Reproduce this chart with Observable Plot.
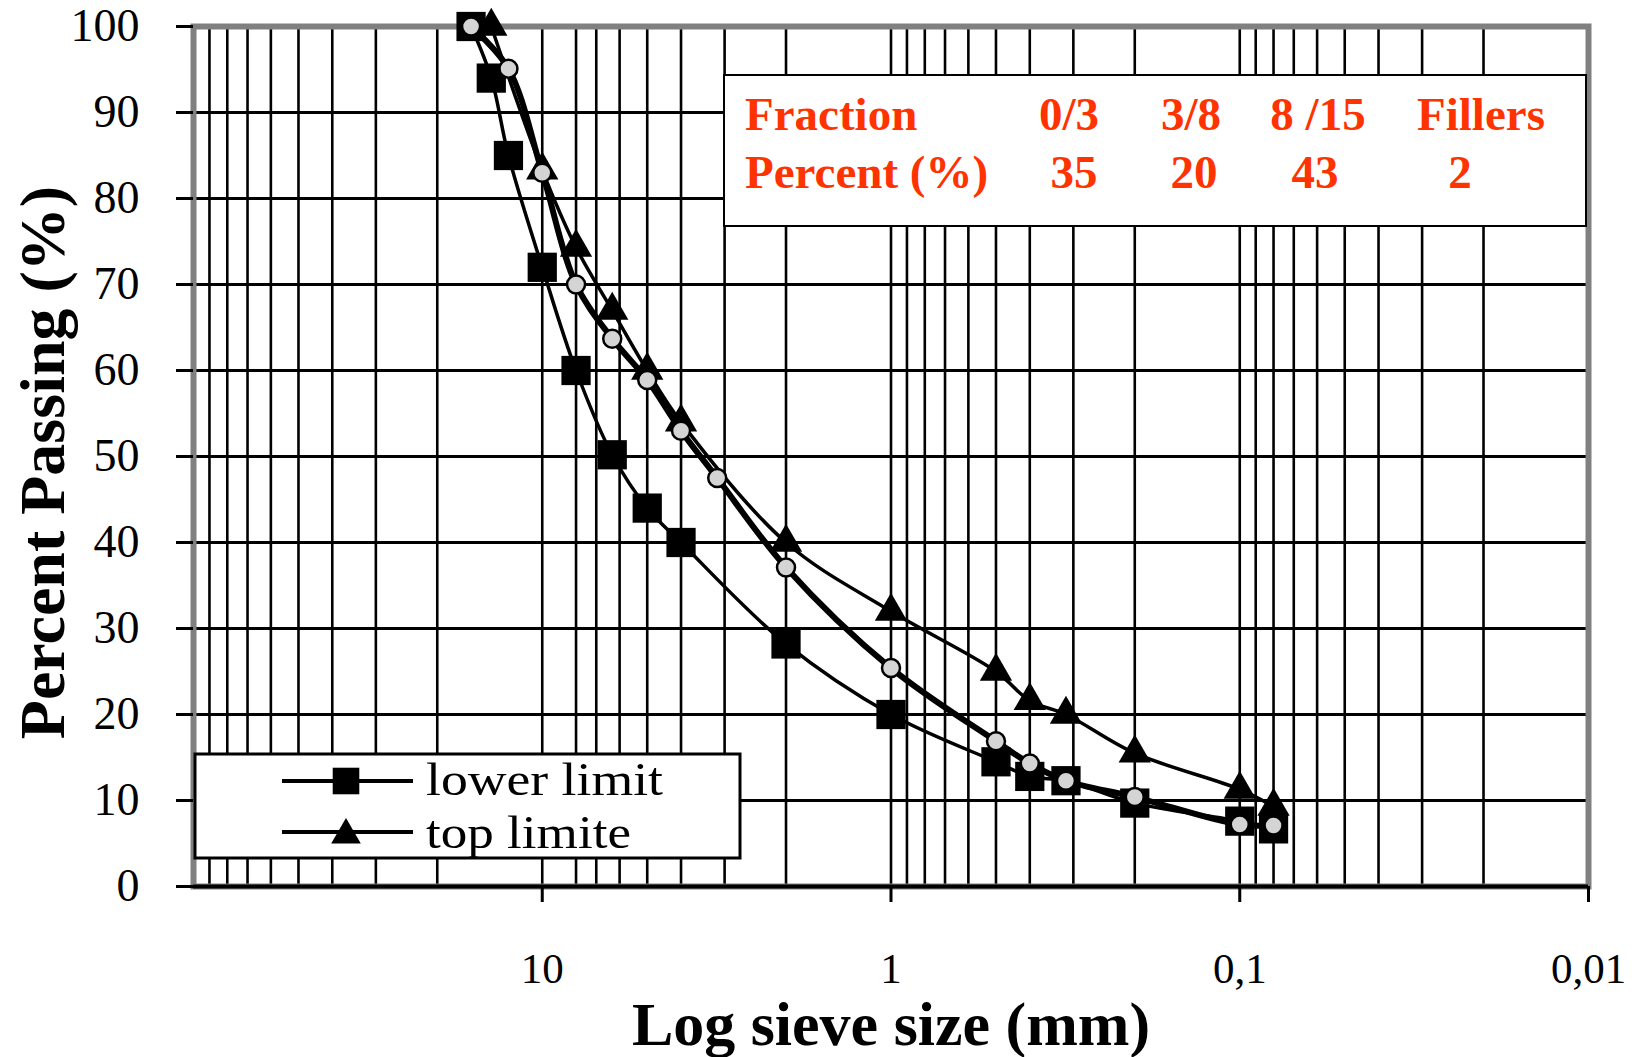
<!DOCTYPE html>
<html>
<head>
<meta charset="utf-8">
<script src="https://cdn.jsdelivr.net/npm/d3@7"></script>
<script src="https://cdn.jsdelivr.net/npm/@observablehq/plot@0.6"></script>
<style>
  html, body { margin: 0; padding: 0; background: white; }
  #chart { position: relative; width: 1645px; height: 1057px; overflow: hidden; }
</style>
</head>
<body>
<div id="chart"></div>
<script>
// ---- data (sieve size in mm, percent passing) ----
const lowerSize = [16, 14, 12.5, 10, 8, 6.3, 5, 4, 2, 1, 0.5, 0.4, 0.315, 0.2, 0.1, 0.08];
const lowerPass = [100, 94, 85, 72, 60, 50.2, 44, 40, 28.2, 20, 14.5, 12.8, 12.3, 9.7, 7.6, 6.7];

const topSize = [14, 10, 8, 6.3, 5, 4, 2, 1, 0.5, 0.4, 0.315, 0.2, 0.1, 0.08];
const topPass = [100, 83.3, 74.3, 67, 60, 54, 40, 32, 25, 21.6, 20, 15.5, 11.3, 9.3];

const mixSize = [16, 12.5, 10, 8, 6.3, 5, 4, 3.15, 2, 1, 0.5, 0.4, 0.315, 0.2, 0.1, 0.08];
const mixPass = [100, 95.1, 83, 70, 63.7, 58.9, 53, 47.5, 37.1, 25.4, 16.9, 14.3, 12.3, 10.4, 7.2, 7.1];

// ---- axes / grid ----
const xTicks = [10, 1, 0.1, 0.01];
const xTickLabels = ["10", "1", "0,1", "0,01"];
const yTicks = [0, 10, 20, 30, 40, 50, 60, 70, 80, 90, 100];
const gridX = [90, 80, 70, 60, 50, 40, 30, 20,
               10, 8, 7, 6, 5, 4, 3, 2,
               1, 0.9, 0.8, 0.7, 0.6, 0.5, 0.4, 0.3, 0.2,
               0.1, 0.09, 0.08, 0.07, 0.06, 0.05, 0.04, 0.03, 0.02];
const gridY = [10, 20, 30, 40, 50, 60, 70, 80, 90];

// ---- legend & table text ----
const legendLabels = ["lower limit", "top limite"];
const fractionHeader = "Fraction";
const percentHeader = "Percent (%)";
const fractions = ["0/3", "3/8", "8 /15", "Fillers"];
const percents = [35, 20, 43, 2];

const xTitle = "Log sieve size (mm)";
const yTitle = "Percent Passing (%)";

const lower = lowerSize.map((s, i) => ({size: s, pass: lowerPass[i]}));
const topL = topSize.map((s, i) => ({size: s, pass: topPass[i]}));
const mix = mixSize.map((s, i) => ({size: s, pass: mixPass[i]}));

const serif = "'Liberation Serif', 'Times New Roman', serif";

const svg = Plot.plot({
  width: 1645,
  height: 1057,
  marginLeft: 193,
  marginRight: 57,
  marginTop: 26,
  marginBottom: 171,
  style: {background: "white", fontFamily: serif, color: "black", overflow: "visible"},
  x: {type: "log", domain: [100, 0.01]},
  y: {domain: [0, 100]},
  marks: [
    Plot.ruleX(gridX, {stroke: "black", strokeWidth: 2.6}),
    Plot.ruleY(gridY, {stroke: "black", strokeWidth: 3}),
    Plot.frame({stroke: "#808080", strokeWidth: 6}),
    Plot.ruleY([0], {stroke: "black", strokeWidth: 4}),
    Plot.axisY({
      ticks: yTicks, tickSize: 17, tickPadding: 37, strokeWidth: 3,
      fontSize: 46, fontFamily: serif, label: null
    }),
    Plot.axisX({
      ticks: xTicks, tickSize: 16, tickPadding: 50, strokeWidth: 3,
      tickFormat: (d) => xTickLabels[xTicks.indexOf(d)],
      fontSize: 43, fontFamily: serif, label: null
    }),
    // lower limit
    Plot.line(lower, {x: "size", y: "pass", stroke: "black", strokeWidth: 3.5, curve: "catmull-rom"}),
    Plot.dot(lower, {x: "size", y: "pass", symbol: "square", r: 16.5, fill: "black", stroke: "none"}),
    // top limit
    Plot.line(topL, {x: "size", y: "pass", stroke: "black", strokeWidth: 3.5, curve: "catmull-rom"}),
    Plot.dot(topL, {x: "size", y: "pass", symbol: "triangle", r: 12, fill: "black", stroke: "none"}),
    // mix curve
    Plot.line(mix, {x: "size", y: "pass", stroke: "black", strokeWidth: 6, curve: "catmull-rom"}),
    Plot.dot(mix, {x: "size", y: "pass", r: 9, fill: "#d4d4d4", stroke: "black", strokeWidth: 2.5}),
    // titles
    Plot.text([xTitle], {
      frameAnchor: "bottom", dy: 158, lineAnchor: "bottom", textAnchor: "middle",
      fontSize: 62, fontWeight: "bold", fontFamily: serif, fill: "black"
    }),
    Plot.text([yTitle], {
      frameAnchor: "left", dx: -130, dy: 6, rotate: -90, lineAnchor: "bottom", textAnchor: "middle",
      fontSize: 64, fontWeight: "bold", fontFamily: serif, fill: "black"
    })
  ]
});

document.getElementById("chart").appendChild(svg);

// ---- legend box (inside plot, lower left) ----
const s = d3.select(svg);
const lg = s.append("g").attr("font-family", serif).attr("text-anchor", "start");
lg.append("rect").attr("x", 195).attr("y", 754).attr("width", 545).attr("height", 104)
  .attr("fill", "white").attr("stroke", "black").attr("stroke-width", 3);
const rowsY = [781, 832];
const baseY = [795, 848];
const lens = [237, 205];
rowsY.forEach((y, i) => {
  lg.append("line").attr("x1", 282).attr("x2", 413).attr("y1", y).attr("y2", y)
    .attr("stroke", "black").attr("stroke-width", 4);
  const sym = i === 0 ? d3.symbolSquare : d3.symbolTriangle;
  const size = i === 0 ? Math.PI * 15 * 15 : Math.PI * 11 * 11;
  lg.append("path").attr("d", d3.symbol(sym, size)())
    .attr("transform", `translate(346,${i === 0 ? y : y + 3})`).attr("fill", "black");
  lg.append("text").attr("x", 426).attr("y", baseY[i]).attr("text-anchor", "start")
    .attr("font-size", 46).attr("textLength", lens[i]).attr("lengthAdjust", "spacingAndGlyphs")
    .attr("fill", "black").text(legendLabels[i]);
});

// ---- composition table (upper right) ----
const tb = s.append("g").attr("font-family", serif).attr("font-weight", "bold")
  .attr("font-size", 47).attr("fill", "#ff3300").attr("text-anchor", "start");
tb.append("rect").attr("x", 724).attr("y", 75).attr("width", 862).attr("height", 151)
  .attr("fill", "white").attr("stroke", "black").attr("stroke-width", 2);
tb.append("text").attr("x", 745).attr("y", 130).attr("text-anchor", "start").text(fractionHeader);
tb.append("text").attr("x", 745).attr("y", 188).attr("text-anchor", "start").text(percentHeader);
const fracX = [1069, 1191, 1318, 1481];
const pctX = [1074, 1194, 1315, 1460];
fractions.forEach((f, i) => {
  tb.append("text").attr("x", fracX[i]).attr("y", 130).attr("text-anchor", "middle").text(f);
});
percents.forEach((p, i) => {
  tb.append("text").attr("x", pctX[i]).attr("y", 188).attr("text-anchor", "middle").text(String(p));
});
</script>
</body>
</html>
